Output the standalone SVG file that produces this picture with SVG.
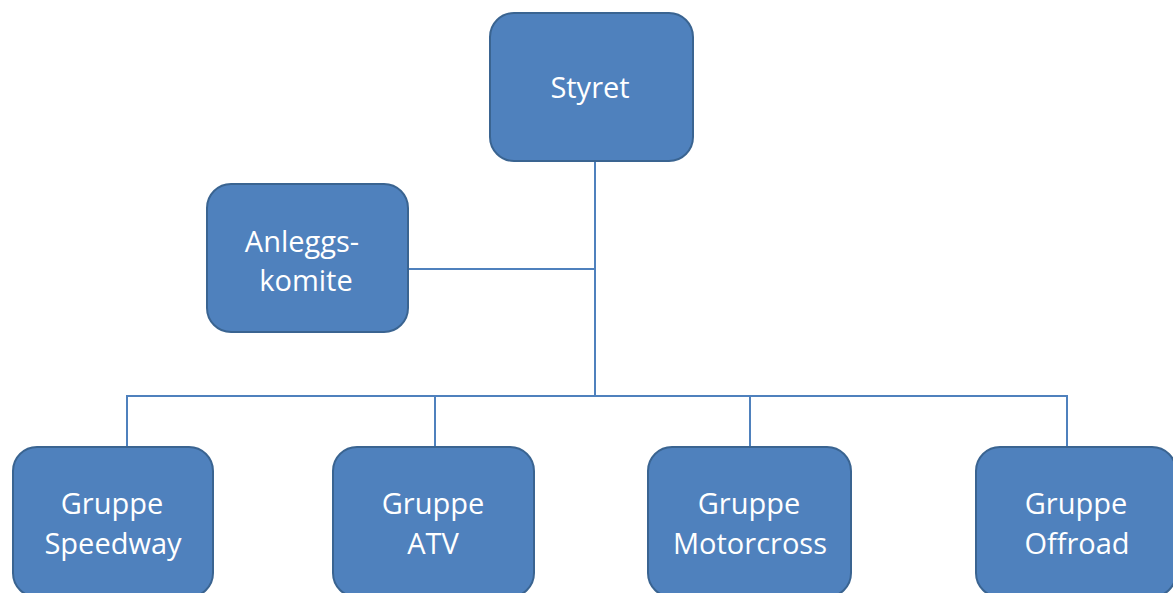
<svg xmlns="http://www.w3.org/2000/svg" width="1173" height="593" viewBox="0 0 1173 593">
<style>
.box{fill:#4F81BD;stroke:#3A6491;stroke-width:2}
.lbl{fill:#FFFFFF;font-family:"Open Sans","Liberation Sans",sans-serif;font-size:29px;text-anchor:middle}
.conn{fill:none;stroke:#4F81BD;stroke-width:2}
</style>
<rect width="1173" height="593" fill="#FFFFFF"/>
<g id="connectors">
<path class="conn" d="M595,162 V395"/>
<path class="conn" d="M408,269 H595"/>
<path class="conn" d="M127,447 V396 H1067 V447"/>
<path class="conn" d="M435,396 V447"/>
<path class="conn" d="M750,396 V447"/>
</g>
<g id="styret">
<rect class="box" x="490" y="13" width="203" height="148" rx="24"/>
<text class="lbl" x="590" y="98">Styret</text>
</g>
<g id="anleggskomite">
<rect class="box" x="207" y="184" width="201" height="148" rx="24"/>
<text class="lbl" x="302" y="252">Anleggs-</text>
<text class="lbl" x="306" y="291">komite</text>
</g>
<g id="speedway">
<rect class="box" x="13" y="447" width="200" height="150" rx="24"/>
<text class="lbl" x="112" y="514">Gruppe</text>
<text class="lbl" x="113" y="554">Speedway</text>
</g>
<g id="atv">
<rect class="box" x="333" y="447" width="201" height="150" rx="24"/>
<text class="lbl" x="433" y="514">Gruppe</text>
<text class="lbl" x="433" y="554">ATV</text>
</g>
<g id="motorcross">
<rect class="box" x="648" y="447" width="203" height="150" rx="24"/>
<text class="lbl" x="749" y="514">Gruppe</text>
<text class="lbl" x="750" y="554">Motorcross</text>
</g>
<g id="offroad">
<rect class="box" x="976" y="447" width="200" height="150" rx="24"/>
<text class="lbl" x="1076" y="514">Gruppe</text>
<text class="lbl" x="1077" y="554">Offroad</text>
</g>
</svg>
